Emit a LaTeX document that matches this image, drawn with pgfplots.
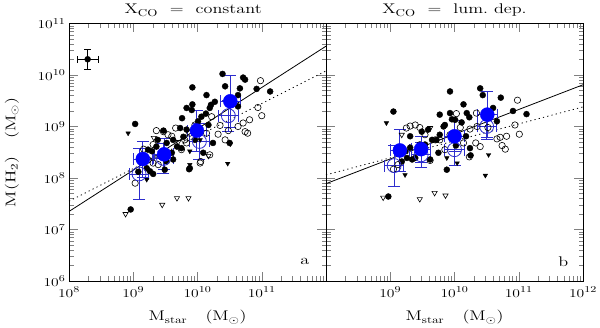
\documentclass[border=0pt]{standalone}
\usepackage{graphicx}
\usepackage{pgfplots}
\pgfplotsset{compat=1.18}
\usepackage{pgfplotstable}

\definecolor{barblue}{RGB}{45,45,205}
% the plot's lettering is wide: stretch Latin Modern sideways
\newcommand\sx[1]{\scalebox{1.3}[1]{#1}}
\newcommand\lab{\fontsize{14}{16}\selectfont}
\newcommand\tl[1]{\sx{$10^{#1}$}}

% black samples, left panel (X_CO constant)
\pgfplotstableread{
x y
1.07e9 1.12e9
8.32e9 5.75e9
2.45e10 1.05e10
5.13e10 8.91e9
5.50e10 8.13e9
2.69e10 6.03e9
4.57e10 5.50e9
8.32e10 5.37e9
1.35e11 4.79e9
1.38e10 4.07e9
1.86e10 3.02e9
1.62e10 2.63e9
1.55e10 2.29e9
4.27e10 4.07e9
4.27e10 2.45e9
1.15e10 1.55e9
1.48e10 1.07e9
1.02e10 1.26e9
1.74e10 4.79e8
3.16e10 4.79e8
5.75e9 1.45e9
8.13e9 2.09e9
1.35e10 1.78e9
5.37e9 9.33e8
6.76e9 8.71e8
4.17e9 5.50e8
6.03e9 6.31e8
4.79e9 4.07e8
3.31e9 4.79e8
2.29e9 4.07e8
1.95e9 3.31e8
2.63e9 2.63e8
4.17e9 2.29e8
3.31e9 2.09e8
6.76e9 2.29e9
2.95e9 8.32e8
1.70e9 3.55e8
1.62e9 1.55e8
2.04e9 1.20e8
3.98e9 3.09e8
5.62e9 3.80e8
7.59e9 1.55e8
3.09e9 1.45e8
9.12e8 2.45e7
1.23e10 3.09e8
7.41e9 1.48e8
1.82e9 1.35e8
1.20e9 1.32e8
8.32e9 2.69e9
1.48e9 2.29e8
2.40e9 5.50e8
9.12e9 5.50e8
}\LFilled

\pgfplotstableread{
x y
9.55e10 7.76e9
8.71e10 2.34e9
1.00e11 1.62e9
6.46e10 1.35e9
5.50e10 7.94e8
6.03e10 7.41e8
5.13e10 1.17e9
4.27e10 1.00e9
2.24e10 1.05e9
2.09e10 7.08e8
3.02e10 8.32e8
1.38e10 7.41e8
1.10e10 1.95e8
2.29e9 8.32e8
2.95e9 7.94e8
3.47e9 6.92e8
3.98e9 6.46e8
2.04e9 4.47e8
1.45e9 3.63e8
7.59e9 7.41e8
6.76e9 4.79e8
5.62e9 3.55e8
6.31e9 5.50e8
2.04e9 1.95e8
2.45e9 1.82e8
1.07e9 7.94e7
1.55e10 2.82e8
1.12e10 2.09e8
9.12e9 1.07e9
1.66e10 1.55e9
2.69e10 5.50e8
4.57e9 9.33e8
1.70e9 2.24e8
}\LOpen

\pgfplotstableread{
x y
8.32e8 7.41e8
3.24e10 4.57e8
2.95e10 1.91e8
7.59e9 3.31e8
7.59e9 1.82e8
1.62e9 9.33e7
1.10e10 5.50e8
}\LFTri

\pgfplotstableread{
x y
7.59e8 2.00e7
2.82e9 3.02e7
4.79e9 4.07e7
7.24e9 4.07e7
2.09e9 6.03e8
1.48e10 2.69e8
5.01e9 5.01e8
}\LOTri

% black samples, right panel (X_CO luminosity dependent)
\pgfplotstableread{
x y
8.51e9 4.79e9
2.51e10 5.50e9
2.75e10 4.07e9
5.25e10 3.63e9
8.13e10 2.00e9
1.32e11 1.74e9
3.98e10 2.29e9
1.12e9 1.95e9
1.38e10 2.69e9
5.89e9 1.70e9
6.76e9 1.00e9
8.51e9 1.82e9
1.70e10 1.51e9
1.55e10 1.82e9
3.89e9 8.71e8
3.09e9 7.94e8
2.04e9 6.46e8
1.70e9 3.31e8
1.82e9 2.45e8
2.45e9 2.45e8
4.17e9 2.29e8
5.62e9 3.09e8
7.08e9 1.07e9
9.12e9 1.38e9
4.47e9 5.50e8
7.59e9 1.45e8
9.33e8 4.37e7
1.29e10 1.20e9
4.57e10 1.26e9
1.51e10 6.46e8
1.78e10 2.75e8
5.25e9 5.50e8
1.05e10 4.27e8
1.74e10 3.80e8
2.88e9 4.47e8
1.29e9 3.55e8
2.19e9 2.29e8
3.47e9 4.47e8
5.89e9 6.92e8
2.04e9 3.89e8
1.51e9 2.09e8
1.02e10 1.35e9
}\RFilled

\pgfplotstableread{
x y
9.55e10 3.24e9
8.71e10 1.07e9
1.02e11 7.08e8
6.46e10 6.46e8
5.13e10 6.17e8
4.57e10 5.75e8
5.50e10 4.27e8
6.17e10 3.63e8
2.14e10 4.79e8
1.70e10 2.57e8
2.24e10 1.00e9
1.74e10 8.91e8
1.38e10 4.79e8
1.78e9 9.33e8
2.04e9 1.02e9
2.45e9 1.07e9
1.07e10 1.78e9
2.19e10 1.82e9
2.51e10 4.07e8
1.12e9 1.48e8
4.17e9 2.19e8
5.89e9 5.50e8
8.51e9 6.92e8
3.47e9 6.92e8
1.32e9 1.82e8
1.23e10 9.55e8
7.08e9 3.55e8
2.88e9 9.55e8
5.01e9 5.50e8
3.31e10 9.55e8
}\ROpen

\pgfplotstableread{
x y
8.71e8 1.17e9
1.70e9 1.15e8
3.39e10 2.82e8
3.02e10 1.12e8
7.59e9 2.45e8
1.10e10 1.95e8
}\RFTri

\pgfplotstableread{
x y
7.76e8 4.17e7
2.88e9 3.89e7
4.90e9 5.13e7
7.24e9 4.57e7
4.17e9 9.33e8
1.51e9 6.92e8
}\ROTri

% binned means; errors are relative (x +-0.15 dex)
\pgfplotstableread{
x y xp xm yp ym
1.41e9 2.34e8 0.413 0.292 1.239 0.553
3.02e9 2.88e8 0.413 0.292 0.995 0.499
9.77e9 8.32e8 0.413 0.292 1.512 0.602
3.24e10 3.09e9 0.413 0.292 2.162 0.684
}\LBinF
\pgfplotstableread{
x y xp xm yp ym
1.23e9 1.20e8 0.413 0.292 2.162 0.684
2.95e9 2.40e8 0.413 0.292 0.995 0.499
1.07e10 5.13e8 0.413 0.292 1.239 0.553
3.02e10 1.62e9 0.413 0.292 0.995 0.499
}\LBinO
\pgfplotstableread{
x y xp xm yp ym
1.41e9 3.43e8 0.413 0.292 1.512 0.602
3.02e9 3.63e8 0.413 0.292 0.778 0.438
1.00e10 6.46e8 0.413 0.292 0.995 0.499
3.24e10 1.70e9 0.413 0.292 1.818 0.645
}\RBinF
\pgfplotstableread{
x y xp xm yp ym
1.15e9 1.74e8 0.413 0.292 1.512 0.602
3.02e9 2.82e8 0.413 0.292 0.778 0.438
1.00e10 3.55e8 0.413 0.292 0.995 0.499
3.16e10 1.00e9 0.413 0.292 0.778 0.438
}\RBinO

\pgfplotsset{
  fdot/.style={only marks, mark=*, mark size=3pt, black},
  odot/.style={only marks, mark=o, mark size=3.2pt, black, mark options={line width=0.6pt}},
  ftri/.style={only marks, mark=triangle*, mark size=2.6pt, black, mark options={rotate=180}},
  otri/.style={only marks, mark=triangle, mark size=3pt, black, mark options={rotate=180, line width=0.6pt}},
  fitdot/.style={black, line width=0.8pt, dash pattern=on 1.2pt off 3.2pt},
  fitsol/.style={black, line width=0.8pt},
}

\begin{document}
\begin{tikzpicture}
\path[use as bounding box] (0,0) rectangle (600pt,327pt);

\begin{axis}[at={(69pt,46pt)}, anchor=south west,
  scale only axis, width=257pt, height=257.5pt, clip=false,
  xmode=log, ymode=log,
  xmin=1e8, xmax=1e12, ymin=1e6, ymax=1e11,
  xtick={1e8,1e9,1e10,1e11,1e12},
  ytick={1e6,1e7,1e8,1e9,1e10,1e11},
  xticklabels={\tl{8},\tl{9},\tl{10},\tl{11},},
  yticklabels={\tl{6},\tl{7},\tl{8},\tl{9},\tl{10},\tl{11}},
  xticklabel style={yshift=-2.5pt},
  tick align=inside,
  major tick length=9pt, minor tick length=4.5pt,
  axis line style={line width=0.9pt},
  tick label style={font=\fontsize{13}{15}\selectfont},
]
\addplot[fitsol] coordinates {(1e8,2.24e7) (1e12,3.63e10)};
\addplot[fitdot] coordinates {(1e8,3.55e7) (1e12,1.20e10)};
\addplot[odot] table {\LOpen};
\addplot[fdot] table {\LFilled};
\addplot[otri] table {\LOTri};
\addplot[ftri] table {\LFTri};
\addplot[only marks, mark=o, mark size=7pt, barblue, mark options={line width=0.8pt},
  error bars/.cd, x dir=both, y dir=both, x explicit relative, y explicit relative,
  error bar style={barblue, line width=0.8pt},
  error mark options={barblue, line width=0.8pt, mark size=6pt, rotate=90}]
  table[x=x, y=y, x error plus=xp, x error minus=xm, y error plus=yp, y error minus=ym] {\LBinO};
\addplot[only marks, mark=*, mark size=7pt, blue, mark options={draw=blue, fill=blue},
  error bars/.cd, x dir=both, y dir=both, x explicit relative, y explicit relative,
  error bar style={barblue, line width=0.8pt},
  error mark options={barblue, line width=0.8pt, mark size=6pt, rotate=90}]
  table[x=x, y=y, x error plus=xp, x error minus=xm, y error plus=yp, y error minus=ym] {\LBinF};
% typical uncertainty
\addplot[only marks, mark=*, mark size=3pt, black,
  error bars/.cd, x dir=both, y dir=both, x explicit relative, y explicit relative,
  error bar style={black, line width=0.8pt},
  error mark options={black, line width=0.8pt, mark size=3.5pt, rotate=90}]
  coordinates {(1.95e8,2.02e10) += (0.445,0.585) -= (0.308,0.369)};
\node[font=\lab, anchor=base] at (axis description cs:0.483,1.037) {\sx{X$_{\mathrm{CO}}$\ \ =\ \ constant}};
\node[font=\lab, anchor=base] at (axis description cs:0.5,-0.155) {\sx{M$_{\mathrm{star}}$\quad (M$_\odot$)}};
\node[font=\lab] at (axis description cs:0.918,0.075) {\sx{a}};
\node[font=\lab, rotate=90] at (axis description cs:-0.222,0.5) {\sx{M(H$_2$)\quad (M$_\odot$)}};
\end{axis}

\begin{axis}[at={(326pt,46pt)}, anchor=south west,
  scale only axis, width=257pt, height=257.5pt, clip=false,
  xmode=log, ymode=log,
  xmin=1e8, xmax=1e12, ymin=1e6, ymax=1e11,
  xtick={1e8,1e9,1e10,1e11,1e12},
  ytick={1e6,1e7,1e8,1e9,1e10,1e11},
  xticklabels={,\tl{9},\tl{10},\tl{11},\tl{12}},
  yticklabels={},
  xticklabel style={yshift=-2.5pt},
  tick align=inside,
  major tick length=9pt, minor tick length=4.5pt,
  axis line style={line width=0.9pt},
  tick label style={font=\fontsize{13}{15}\selectfont},
]
\addplot[fitsol] coordinates {(1e8,7.76e7) (1e12,6.46e9)};
\addplot[fitdot] coordinates {(1e8,1.15e8) (1e12,2.40e9)};
\addplot[odot] table {\ROpen};
\addplot[fdot] table {\RFilled};
\addplot[otri] table {\ROTri};
\addplot[ftri] table {\RFTri};
\addplot[only marks, mark=o, mark size=7pt, barblue, mark options={line width=0.8pt},
  error bars/.cd, x dir=both, y dir=both, x explicit relative, y explicit relative,
  error bar style={barblue, line width=0.8pt},
  error mark options={barblue, line width=0.8pt, mark size=6pt, rotate=90}]
  table[x=x, y=y, x error plus=xp, x error minus=xm, y error plus=yp, y error minus=ym] {\RBinO};
\addplot[only marks, mark=*, mark size=7pt, blue, mark options={draw=blue, fill=blue},
  error bars/.cd, x dir=both, y dir=both, x explicit relative, y explicit relative,
  error bar style={barblue, line width=0.8pt},
  error mark options={barblue, line width=0.8pt, mark size=6pt, rotate=90}]
  table[x=x, y=y, x error plus=xp, x error minus=xm, y error plus=yp, y error minus=ym] {\RBinF};
\node[font=\lab, anchor=base] at (axis description cs:0.5,1.037) {\sx{X$_{\mathrm{CO}}$\ \ =\ \ lum.\ dep.}};
\node[font=\lab, anchor=base] at (axis description cs:0.5,-0.155) {\sx{M$_{\mathrm{star}}$\quad (M$_\odot$)}};
\node[font=\lab] at (axis description cs:0.923,0.075) {\sx{b}};
\end{axis}
\end{tikzpicture}
\end{document}
